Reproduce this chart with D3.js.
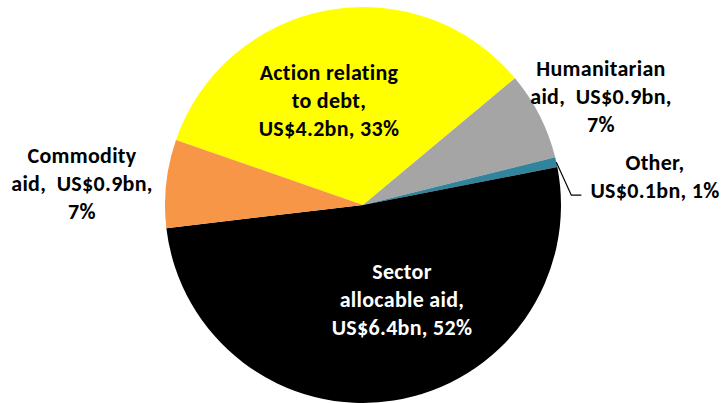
<!DOCTYPE html>
<html>
<head>
<meta charset="utf-8">
<script src="https://cdn.jsdelivr.net/npm/d3@7"></script>
<style>
  html, body { margin: 0; padding: 0; background: #fff; }
  svg { display: block; }
  text { font-family: Carlito, Calibri, Lato, "Open Sans", sans-serif; font-weight: bold; font-size: 22px; letter-spacing: 0.3px; }
</style>
</head>
<body>
<svg id="chart" width="725" height="403"></svg>
<script>
// Aid categories, values in US$ billions
const categories = ["Action relating to debt", "Humanitarian aid", "Other", "Sector allocable aid", "Commodity aid"];
const values = [4.2, 0.9, 0.1, 6.4, 0.9];
const percents = [33, 7, 1, 52, 7];
const colors = ["#FFFF00", "#A5A5A5", "#31849B", "#000000", "#F79646"];

// Label lines for each slice
const labelLines = [
  ["Action relating", "to debt,", "US$4.2bn, 33%"],
  ["Humanitarian", "aid,  US$0.9bn,", "7%"],
  ["Other,", "US$0.1bn, 1%"],
  ["Sector", "allocable aid,", "US$6.4bn, 52%"],
  ["Commodity", "aid,  US$0.9bn,", "7%"]
];
const labelPos = [[329, 80], [601, 76], [655, 170], [402, 279], [82, 163]];
const labelFill = ["#000", "#000", "#000", "#fff", "#000"];

const svg = d3.select("#chart");
const cx = 363, cy = 205, r = 198;
const startDeg = -70.8;

const pie = d3.pie().sort(null).value(d => d)
  .startAngle(startDeg * Math.PI / 180)
  .endAngle((startDeg + 360) * Math.PI / 180);
const arcs = pie(values);
const arc = d3.arc().innerRadius(0).outerRadius(r);

const g = svg.append("g").attr("transform", `translate(${cx},${cy})`);
g.selectAll("path").data(arcs).join("path")
  .attr("d", arc)
  .attr("fill", (d, i) => colors[i]);

// Leader line for the thin "Other" slice
const other = arcs[2];
const mid = (other.startAngle + other.endAngle) / 2;
const ex = cx + Math.sin(mid) * r, ey = cy - Math.cos(mid) * r;
svg.append("polyline")
  .attr("points", `${ex},${ey} ${ex + 15},${ey + 33} ${ex + 25},${ey + 33}`)
  .attr("fill", "none").attr("stroke", "#000").attr("stroke-width", 1.2);

// Data labels
const lh = 28;
categories.forEach((c, i) => {
  const t = svg.append("text")
    .attr("x", labelPos[i][0]).attr("y", labelPos[i][1])
    .attr("text-anchor", "middle")
    .attr("fill", labelFill[i]);
  labelLines[i].forEach((line, j) => {
    t.append("tspan").attr("x", labelPos[i][0]).attr("y", labelPos[i][1] + j * lh)
      .attr("xml:space", "preserve").style("white-space", "pre").text(line);
  });
});
</script>
</body>
</html>
